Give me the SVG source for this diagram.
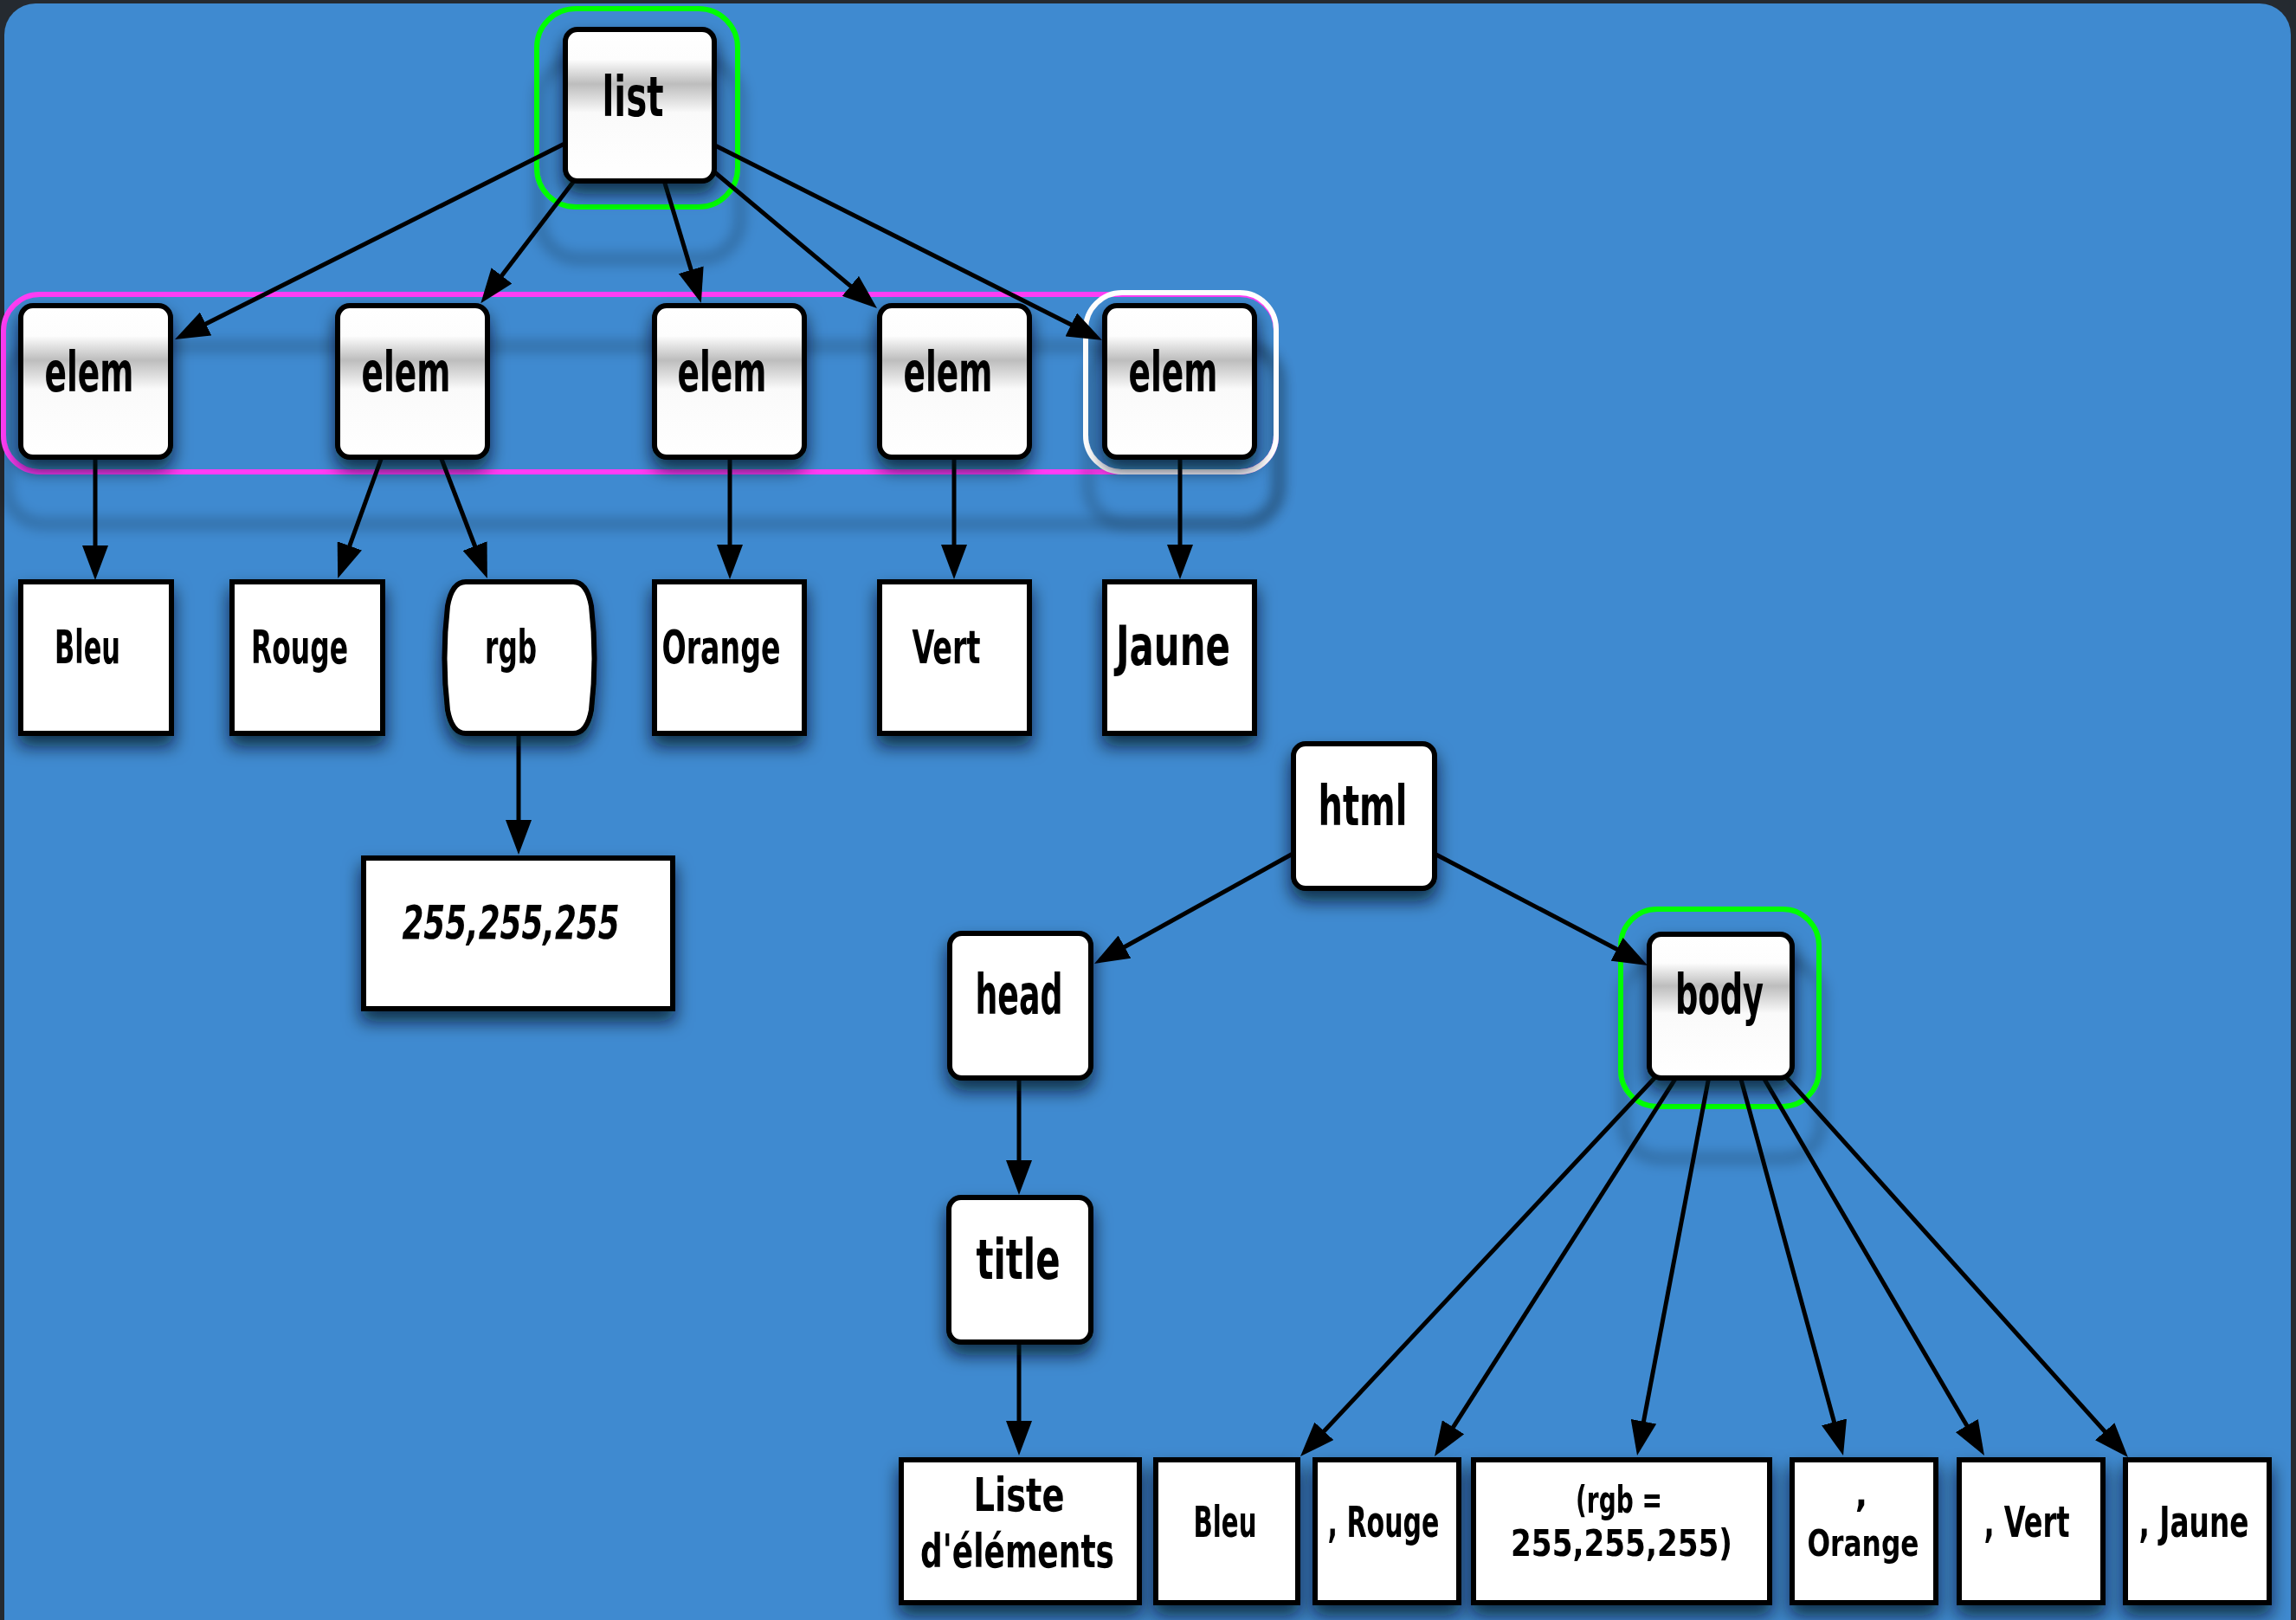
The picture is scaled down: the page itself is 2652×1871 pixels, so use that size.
<svg xmlns="http://www.w3.org/2000/svg" width="2652" height="1871" viewBox="0 0 2652 1871">
<style>
.lbl{font-family:"DejaVu Sans Condensed","DejaVu Sans","Liberation Sans",sans-serif;font-weight:bold;fill:#000;text-anchor:middle}
.big{font-size:64px}
.mid{font-size:54px}
.sm{font-size:50px}
.xs{font-size:42px}
.gnode{fill:url(#gloss);stroke:#000;stroke-width:6}
.pnode{fill:#fff;stroke:#000;stroke-width:6}
.leaf{fill:#fff;stroke:#000;stroke-width:6}
.conn{stroke:#000;stroke-width:5;fill:none;marker-end:url(#ah)}
.hl{fill:none;stroke-width:6}
</style>
<defs>
<linearGradient id="gloss" x1="0" y1="0" x2="0" y2="1">
<stop offset="0" stop-color="#fff"/>
<stop offset="0.2" stop-color="#fdfdfd"/>
<stop offset="0.36" stop-color="#bdbdbd"/>
<stop offset="0.55" stop-color="#fafafa"/>
<stop offset="1" stop-color="#fff"/>
</linearGradient>
<filter id="sh" x="-30%" y="-30%" width="160%" height="170%">
<feDropShadow dx="0" dy="12" stdDeviation="10" flood-color="#06111f" flood-opacity="0.75"/>
</filter>
<filter id="hsh" x="-20%" y="-30%" width="140%" height="180%">
<feDropShadow dx="3" dy="60" stdDeviation="8" flood-color="#06111f" flood-opacity="0.45"/>
</filter>
<marker id="ah" markerUnits="userSpaceOnUse" markerWidth="40" markerHeight="30" refX="25" refY="15" orient="auto">
<path d="M0,0 L40,15 L0,30 Z" fill="#000"/>
</marker>
</defs>
<rect x="0" y="0" width="2652" height="1871" fill="#252a30"/>
<rect x="5" y="4" width="2641" height="1920" rx="36" fill="#3f8ad0"/>

<g id="highlights">
<rect id="hl-list" class="hl" x="620" y="10" width="232" height="229" rx="45" stroke="#00ff00" filter="url(#hsh)"/>
<rect id="hl-elems" class="hl" x="4" y="340" width="1470" height="205" rx="42" stroke="#ff3ef5" filter="url(#hsh)"/>
<rect id="hl-elem5" class="hl" x="1254" y="338" width="220" height="207" rx="42" stroke="#ffffff" filter="url(#hsh)"/>
<rect id="hl-body" class="hl" x="1872" y="1050" width="229" height="228" rx="42" stroke="#00ff00" filter="url(#hsh)"/>
</g>

<g id="connectors">
<path class="conn" d="M652,166 L215.4,385.3"/>
<path class="conn" d="M666,205 L564.4,338.3"/>
<path class="conn" d="M766,205 L805.5,335.7"/>
<path class="conn" d="M822,196 L1001.5,346.4"/>
<path class="conn" d="M822,166 L1259.6,386.2"/>
<path class="conn" d="M110,525 L110,655"/>
<path class="conn" d="M442,525 L395.3,653.9"/>
<path class="conn" d="M508,525 L557.5,654"/>
<path class="conn" d="M843,525 L843,654"/>
<path class="conn" d="M1102,525 L1102,654"/>
<path class="conn" d="M1363,525 L1363,654"/>
<path class="conn" d="M599,845 L599,972"/>
<path class="conn" d="M1495,985 L1277.1,1105.7"/>
<path class="conn" d="M1655,985 L1889.8,1108"/>
<path class="conn" d="M1177,1242 L1177,1365"/>
<path class="conn" d="M1177,1548 L1177,1666"/>
<path class="conn" d="M1913,1243 L1512.3,1671.1"/>
<path class="conn" d="M1937,1243 L1665.1,1669.4"/>
<path class="conn" d="M1974,1243 L1893.8,1666.3"/>
<path class="conn" d="M2010,1243 L2125.1,1666.5"/>
<path class="conn" d="M2036,1243 L2284.4,1668.1"/>
<path class="conn" d="M2062,1243 L2447.9,1671.9"/>
</g>

<g id="n-list" filter="url(#sh)"><rect class="gnode" x="653" y="34" width="172" height="175" rx="14"/><text class="lbl big" x="731" y="134" textLength="71" lengthAdjust="spacingAndGlyphs">list</text></g>

<g id="n-elem1" filter="url(#sh)"><rect class="gnode" x="24" y="353" width="173" height="175" rx="14"/><text class="lbl big" x="103" y="452" textLength="103" lengthAdjust="spacingAndGlyphs">elem</text></g>
<g id="n-elem2" filter="url(#sh)"><rect class="gnode" x="390" y="353" width="173" height="175" rx="14"/><text class="lbl big" x="469" y="452" textLength="103" lengthAdjust="spacingAndGlyphs">elem</text></g>
<g id="n-elem3" filter="url(#sh)"><rect class="gnode" x="756" y="353" width="173" height="175" rx="14"/><text class="lbl big" x="834" y="452" textLength="103" lengthAdjust="spacingAndGlyphs">elem</text></g>
<g id="n-elem4" filter="url(#sh)"><rect class="gnode" x="1016" y="353" width="173" height="175" rx="14"/><text class="lbl big" x="1095" y="452" textLength="103" lengthAdjust="spacingAndGlyphs">elem</text></g>
<g id="n-elem5" filter="url(#sh)"><rect class="gnode" x="1276" y="353" width="173" height="175" rx="14"/><text class="lbl big" x="1355" y="452" textLength="103" lengthAdjust="spacingAndGlyphs">elem</text></g>

<g id="n-bleu" filter="url(#sh)"><rect class="leaf" x="24" y="672" width="174" height="175"/><text class="lbl mid" x="101" y="766" textLength="76" lengthAdjust="spacingAndGlyphs">Bleu</text></g>
<g id="n-rouge" filter="url(#sh)"><rect class="leaf" x="268" y="672" width="174" height="175"/><text class="lbl mid" x="346" y="766" textLength="112" lengthAdjust="spacingAndGlyphs">Rouge</text></g>
<g id="n-rgb" filter="url(#sh)"><path class="leaf" d="M538,672 L662,672 Q678,672 683,700 Q690,760 683,820 Q678,847 662,847 L538,847 Q522,847 517,820 Q510,760 517,700 Q522,672 538,672 Z"/><text class="lbl mid" x="590" y="766" textLength="60" lengthAdjust="spacingAndGlyphs">rgb</text></g>
<g id="n-orange" filter="url(#sh)"><rect class="leaf" x="756" y="672" width="173" height="175"/><text class="lbl mid" x="833" y="766" textLength="137" lengthAdjust="spacingAndGlyphs">Orange</text></g>
<g id="n-vert" filter="url(#sh)"><rect class="leaf" x="1016" y="672" width="173" height="175"/><text class="lbl mid" x="1093" y="766" textLength="79" lengthAdjust="spacingAndGlyphs">Vert</text></g>
<g id="n-jaune" filter="url(#sh)"><rect class="leaf" x="1276" y="672" width="173" height="175"/><text class="lbl big" x="1355" y="768" textLength="132" lengthAdjust="spacingAndGlyphs">Jaune</text></g>
<g id="n-255" filter="url(#sh)"><rect class="leaf" x="420" y="991" width="357" height="174"/><text class="lbl mid" x="590" y="1084" font-style="italic" textLength="251" lengthAdjust="spacingAndGlyphs">255,255,255</text></g>

<g id="n-html" filter="url(#sh)"><rect class="pnode" x="1494" y="859" width="163" height="167" rx="14"/><text class="lbl big" x="1574" y="953" textLength="103" lengthAdjust="spacingAndGlyphs">html</text></g>
<g id="n-head" filter="url(#sh)"><rect class="pnode" x="1097" y="1078" width="163" height="167" rx="14"/><text class="lbl big" x="1177" y="1171" textLength="101" lengthAdjust="spacingAndGlyphs">head</text></g>
<g id="n-body" filter="url(#sh)"><rect class="gnode" x="1905" y="1079" width="165" height="166" rx="14"/><text class="lbl big" x="1986" y="1171" textLength="102" lengthAdjust="spacingAndGlyphs">body</text></g>
<g id="n-title" filter="url(#sh)"><rect class="pnode" x="1096" y="1383" width="164" height="167" rx="14"/><text class="lbl big" x="1176" y="1477" textLength="97" lengthAdjust="spacingAndGlyphs">title</text></g>

<g id="n-liste" filter="url(#sh)"><rect class="leaf" x="1041" y="1686" width="275" height="165"/><text class="lbl mid" x="1177" y="1745" textLength="105" lengthAdjust="spacingAndGlyphs">Liste</text><text class="lbl mid" x="1175" y="1810" textLength="224" lengthAdjust="spacingAndGlyphs">d'éléments</text></g>
<g id="n-bleu2" filter="url(#sh)"><rect class="leaf" x="1335" y="1686" width="164" height="165"/><text class="lbl sm" x="1415" y="1775" textLength="73" lengthAdjust="spacingAndGlyphs">Bleu</text></g>
<g id="n-rouge2" filter="url(#sh)"><rect class="leaf" x="1519" y="1686" width="166" height="165"/><text class="lbl sm" x="1598" y="1775" textLength="129" lengthAdjust="spacingAndGlyphs">, Rouge</text></g>
<g id="n-rgb2" filter="url(#sh)"><rect class="leaf" x="1702" y="1686" width="342" height="165"/><text class="lbl xs" x="1870" y="1747" textLength="100" lengthAdjust="spacingAndGlyphs">(rgb =</text><text class="lbl xs" x="1873" y="1797" textLength="256" lengthAdjust="spacingAndGlyphs">255,255,255)</text></g>
<g id="n-orange2" filter="url(#sh)"><rect class="leaf" x="2070" y="1686" width="166" height="165"/><text class="lbl xs" x="2150" y="1740">,</text><text class="lbl xs" x="2152" y="1797" textLength="129" lengthAdjust="spacingAndGlyphs">Orange</text></g>
<g id="n-vert2" filter="url(#sh)"><rect class="leaf" x="2263" y="1686" width="166" height="165"/><text class="lbl sm" x="2341" y="1775" textLength="99" lengthAdjust="spacingAndGlyphs">, Vert</text></g>
<g id="n-jaune2" filter="url(#sh)"><rect class="leaf" x="2455" y="1686" width="166" height="165"/><text class="lbl sm" x="2534" y="1775" textLength="127" lengthAdjust="spacingAndGlyphs">, Jaune</text></g>
</svg>
